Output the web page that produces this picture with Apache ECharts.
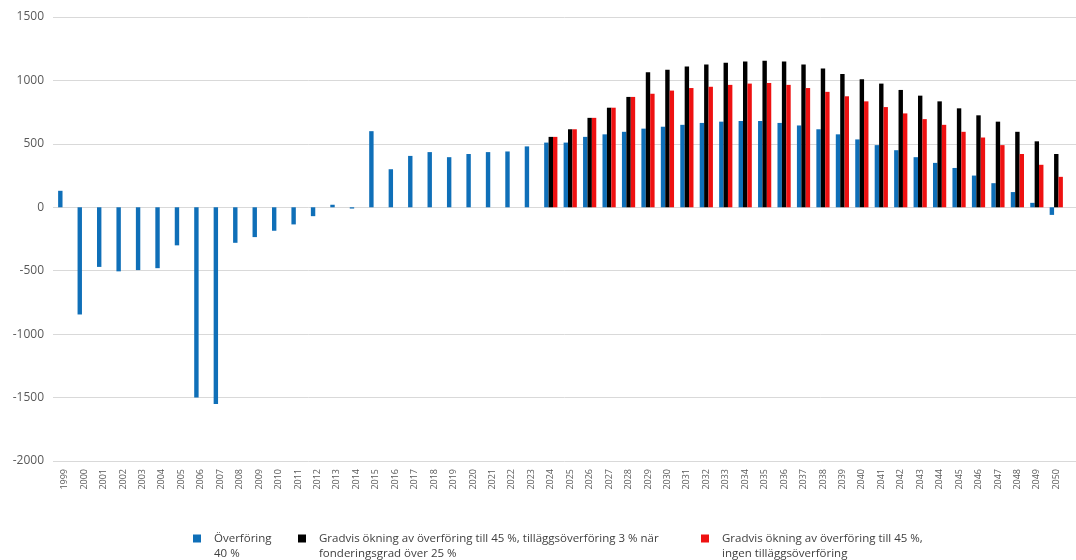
<!DOCTYPE html>
<html>
<head>
<meta charset="utf-8">
<script src="https://cdn.jsdelivr.net/npm/echarts@6/dist/echarts.min.js"></script>
<style>
html,body{margin:0;padding:0;background:#fff;}
#chart{width:1076px;height:560px;}
</style>
</head>
<body>
<div id="chart"></div>
<script>
const years = ['1999','2000','2001','2002','2003','2004','2005','2006','2007','2008','2009','2010','2011','2012','2013','2014','2015','2016','2017','2018','2019','2020','2021','2022','2023','2024','2025','2026','2027','2028','2029','2030','2031','2032','2033','2034','2035','2036','2037','2038','2039','2040','2041','2042','2043','2044','2045','2046','2047','2048','2049','2050'];

const seriesNames = [
  'Överföring\n40 %',
  'Gradvis ökning av överföring till 45 %, tilläggsöverföring 3 % när\nfonderingsgrad över 25 %',
  'Gradvis ökning av överföring till 45 %,\ningen tilläggsöverföring'
];

// Överföring 40 %, 1999–2050
const overforing40 = [130,-845,-470,-505,-495,-480,-300,-1500,-1550,-280,-235,-185,-135,-70,20,-10,600,300,405,435,395,420,435,440,480,510,510,555,575,595,620,635,650,665,675,680,680,665,645,615,575,535,490,450,395,350,310,250,190,120,35,-60];

// Scenarios start in 2024
const scenarioStartYear = '2024';
const gradvisMedTillagg = [555,615,705,785,870,1065,1085,1110,1125,1140,1150,1155,1150,1125,1095,1050,1010,975,925,880,835,780,725,675,595,520,420];
const gradvisUtanTillagg = [555,615,705,785,870,895,920,940,950,965,975,980,965,940,910,875,835,790,740,695,650,595,550,490,420,335,240];

const yTicks = {min:-2000, max:1500, interval:500};

function padToYears(vals, startYear){
  const start = years.indexOf(startYear);
  return years.map((y,i) => (i >= start ? vals[i-start] : null));
}

const colors = ['#0f6fb8','#000000','#ee1111'];
const labelFont = '"Open Sans", "Liberation Sans", sans-serif';

const chart = echarts.init(document.getElementById('chart'));

function legendAt(left, idx){
  return {
    left: left, top: 516, padding: 0,
    orient: 'horizontal',
    itemWidth: 8, itemHeight: 8,
    icon: 'rect',
    data: [seriesNames[idx]],
    selectedMode: false,
    // blank first line so the first text line sits level with the square
    formatter: name => ' \n' + name,
    textStyle: {
      fontFamily: labelFont, fontSize: 11.5, color: '#404040',
      lineHeight: 15, padding: [0, 0, 0, 8]
    }
  };
}

chart.setOption({
  backgroundColor: '#ffffff',
  animation: false,
  grid: [
    {left: 53, right: 0, top: 17, bottom: 99},
    {left: 55, right: 10, top: 17, bottom: 99}
  ],
  xAxis: [
    {gridIndex: 0, type: 'value', min: 0, max: 1, show: false},
    {
      gridIndex: 1, type: 'category', data: years,
      axisLine: {show: false, onZero: false},
      axisTick: {show: false},
      axisLabel: {interval: 0, rotate: 90, margin: 8, fontSize: 9, color: '#595959', fontFamily: labelFont},
      splitLine: {show: false}
    }
  ],
  yAxis: [
    {
      gridIndex: 0, type: 'value', min: yTicks.min, max: yTicks.max, interval: yTicks.interval,
      axisLine: {show: false}, axisTick: {show: false},
      axisLabel: {fontSize: 12, color: '#595959', margin: 9, fontFamily: labelFont,
                  formatter: v => String(v)},
      splitLine: {lineStyle: {color: '#d9d9d9', width: 1}}
    },
    {
      gridIndex: 1, type: 'value', min: yTicks.min, max: yTicks.max, interval: yTicks.interval,
      show: false, splitLine: {show: false}
    }
  ],
  legend: [legendAt(193, 0), legendAt(298, 1), legendAt(701, 2)],
  series: [
    {name: seriesNames[0], type: 'bar', xAxisIndex: 1, yAxisIndex: 1, data: overforing40,
     itemStyle: {color: colors[0]}, barGap: '0%', barCategoryGap: '32%'},
    {name: seriesNames[1], type: 'bar', xAxisIndex: 1, yAxisIndex: 1, data: padToYears(gradvisMedTillagg, scenarioStartYear),
     itemStyle: {color: colors[1]}, barGap: '0%', barCategoryGap: '32%'},
    {name: seriesNames[2], type: 'bar', xAxisIndex: 1, yAxisIndex: 1, data: padToYears(gradvisUtanTillagg, scenarioStartYear),
     itemStyle: {color: colors[2]}, barGap: '0%', barCategoryGap: '32%'}
  ]
});
</script>
</body>
</html>
